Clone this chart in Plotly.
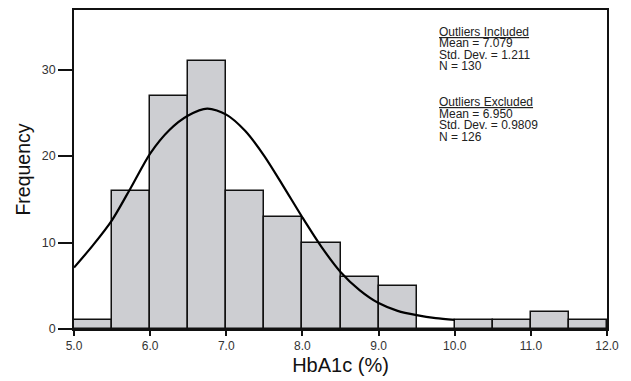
import plotly.graph_objects as go

# Histogram bins (left edges) and counts
bin_left = [5.0, 5.5, 6.0, 6.5, 7.0, 7.5, 8.0, 8.5, 9.0, 9.5, 10.0, 10.5, 11.0, 11.5]
counts = [1, 16, 27, 31, 16, 13, 10, 6, 5, 0, 1, 1, 2, 1]
bin_width = 0.5

# Fitted normal curve
curve_x = [5.0, 5.25, 5.5, 5.75, 6.0, 6.25, 6.5, 6.75, 7.0, 7.25, 7.5, 7.75, 8.0, 8.25, 8.5, 8.75, 9.0, 9.25, 9.5, 9.75, 10.0]
curve_y = [7.1, 9.7, 12.6, 16.4, 20.3, 23.0, 24.7, 25.5, 24.8, 22.9, 20.0, 16.5, 12.9, 9.5, 6.6, 4.5, 3.0, 2.1, 1.6, 1.25, 1.05]

x_ticks = [5.0, 6.0, 7.0, 8.0, 9.0, 10.0, 11.0, 12.0]
x_tick_labels = ["5.0", "6.0", "7.0", "8.0", "9.0", "10.0", "11.0", "12.0"]
y_ticks = [0, 10, 20, 30]

stats_lines = [
    "<u>Outliers Included</u>",
    "Mean = 7.079",
    "Std. Dev. = 1.211",
    "N = 130",
    "<u>Outliers Excluded</u>",
    "Mean = 6.950",
    "Std. Dev. = 0.9809",
    "N = 126",
]
stats_y_px = [30, 41.7, 53.3, 65, 100.7, 112.7, 124.3, 136]

FONT = "Liberation Sans, Arial, Helvetica, sans-serif"

centers = [b + bin_width / 2 for b in bin_left]

fig = go.Figure()
fig.add_trace(go.Bar(
    x=centers, y=counts, width=bin_width,
    marker=dict(color="#cdced2", line=dict(color="#111111", width=1.5)),
    hoverinfo="skip",
))
fig.add_trace(go.Scatter(
    x=curve_x, y=curve_y, mode="lines",
    line=dict(color="#000000", width=2.2, shape="spline", smoothing=0.8),
    hoverinfo="skip",
))

# plot area pixel geometry
top_px, bottom_px = 8.3, 329.3
plot_h = bottom_px - top_px
left_px, right_px = 73.7, 607.0
plot_w = right_px - left_px

for txt, ypx in zip(stats_lines, stats_y_px):
    fig.add_annotation(
        text=txt, xref="paper", yref="paper",
        x=(436.5 - left_px) / plot_w, y=(bottom_px - ypx) / plot_h,
        xanchor="left", yanchor="middle", showarrow=False,
        font=dict(family=FONT, size=12, color="#222222"),
    )

fig.update_layout(
    width=631, height=381,
    margin=dict(l=74, r=24, t=8, b=52),
    paper_bgcolor="white", plot_bgcolor="white",
    showlegend=False, bargap=0,
    font=dict(family=FONT, color="#333333"),
)
fig.update_xaxes(
    range=[5.0, 12.0], tickvals=x_ticks, ticktext=x_tick_labels,
    ticks="outside", ticklen=5, tickwidth=1.5, tickcolor="#111111",
    showline=True, linecolor="#111111", linewidth=1.5, mirror=True,
    showgrid=False, zeroline=False,
    tickfont=dict(family=FONT, size=12, color="#333333"),
    title=dict(text="HbA1c (%)", font=dict(family=FONT, size=20, color="#111111"), standoff=6),
)
fig.update_yaxes(
    range=[0, 36.9], tickvals=y_ticks,
    ticks="outside", ticklen=14, tickwidth=1.5, tickcolor="#111111",
    showline=True, linecolor="#111111", linewidth=1.5, mirror=True,
    showgrid=False, zeroline=False,
    tickfont=dict(family=FONT, size=12.5, color="#333333"),
    title=dict(text="Frequency", font=dict(family=FONT, size=19.5, color="#111111"), standoff=6),
)

fig.write_html(
    "out.html",
    config={"displayModeBar": False},
    post_script="document.body.style.margin='0';document.body.style.overflow='hidden';",
)
